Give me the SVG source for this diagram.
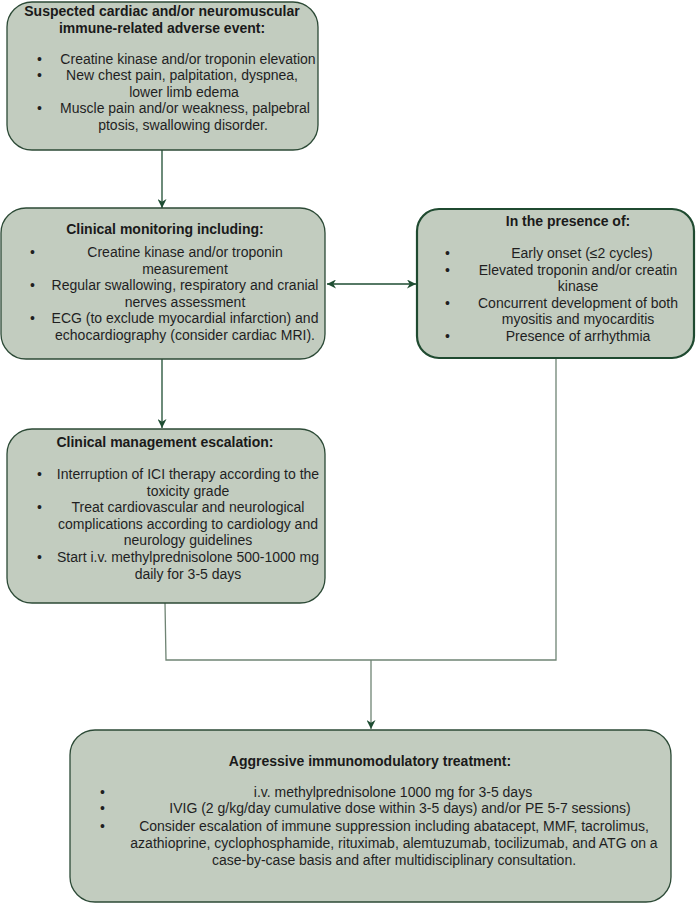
<svg xmlns="http://www.w3.org/2000/svg" width="696" height="904" viewBox="0 0 696 904">
<defs>
<style>
.box{fill:#c2ccbf;stroke:#2c4a36;stroke-width:1.3}
.boxb{fill:#c2ccbf;stroke:#1f4a30;stroke-width:2.2}
.t{font-family:"Liberation Sans",Arial,sans-serif;font-size:14px;font-weight:bold;fill:#1a1a1a;text-anchor:middle}
.b{font-family:"Liberation Sans",Arial,sans-serif;font-size:14px;fill:#1f1f1f;text-anchor:middle}
.bl{font-family:"Liberation Sans",Arial,sans-serif;font-size:14px;fill:#1f1f1f}
.c{fill:none;stroke:#1e4d32;stroke-width:1.3}
.g{fill:none;stroke:#6f8474;stroke-width:1.3}
</style>
<marker id="ah" viewBox="0 0 10 10" refX="10" refY="5" markerWidth="9" markerHeight="9" markerUnits="userSpaceOnUse" orient="auto-start-reverse">
<path d="M0,0 L10,5 L0,10 L3,5 z" fill="#1e4d32"/>
</marker>
</defs>
<g id="connectors">
<line class="c" x1="162" y1="150" x2="162" y2="208" marker-end="url(#ah)"/>
<line class="c" x1="327" y1="284" x2="416" y2="284" marker-start="url(#ah)" marker-end="url(#ah)"/>
<line class="c" x1="162" y1="359" x2="162" y2="428" marker-end="url(#ah)"/>
<polyline class="g" points="165,603 166,660 556,660 556,359"/>
<line class="g" x1="371" y1="660" x2="371" y2="729" marker-end="url(#ah)"/>
</g>
<g id="n1">
<rect class="box" x="7" y="2" width="311" height="148" rx="25"/>
<text class="t" x="162" y="16">Suspected cardiac and/or neuromuscular</text>
<text class="t" x="162" y="33">immune-related adverse event:</text>
<text class="bl" x="37" y="64">•</text><text class="b" x="188" y="64">Creatine kinase and/or troponin elevation</text>
<text class="bl" x="37" y="80">•</text><text class="b" x="182" y="80">New chest pain, palpitation, dyspnea,</text>
<text class="b" x="184" y="97">lower limb edema</text>
<text class="bl" x="37" y="113">•</text><text class="b" x="185" y="113">Muscle pain and/or weakness, palpebral</text>
<text class="b" x="183" y="130">ptosis, swallowing disorder.</text>
</g>
<g id="n2">
<rect class="box" x="1" y="208" width="324" height="151" rx="25"/>
<text class="t" x="165" y="234">Clinical monitoring including:</text>
<text class="bl" x="30" y="257">•</text><text class="b" x="185" y="257">Creatine kinase and/or troponin</text>
<text class="b" x="185" y="274">measurement</text>
<text class="bl" x="30" y="290">•</text><text class="b" x="185" y="290">Regular swallowing, respiratory and cranial</text>
<text class="b" x="185" y="307">nerves assessment</text>
<text class="bl" x="30" y="323">•</text><text class="b" x="185" y="323">ECG (to exclude myocardial infarction) and</text>
<text class="b" x="185" y="340">echocardiography (consider cardiac MRI).</text>
</g>
<g id="n3">
<rect class="boxb" x="417" y="209" width="277" height="149" rx="22"/>
<text class="t" x="568" y="226">In the presence of:</text>
<text class="bl" x="445" y="258">•</text><text class="b" x="582" y="258">Early onset (≤2 cycles)</text>
<text class="bl" x="445" y="275">•</text><text class="b" x="578" y="275">Elevated troponin and/or creatin</text>
<text class="b" x="578" y="291">kinase</text>
<text class="bl" x="445" y="308">•</text><text class="b" x="578" y="308">Concurrent development of both</text>
<text class="b" x="578" y="324">myositis and myocarditis</text>
<text class="bl" x="445" y="341">•</text><text class="b" x="578" y="341">Presence of arrhythmia</text>
</g>
<g id="n4">
<rect class="box" x="7" y="429" width="318" height="174" rx="25"/>
<text class="t" x="165" y="447">Clinical management escalation:</text>
<text class="bl" x="37" y="479">•</text><text class="b" x="188" y="479">Interruption of ICI therapy according to the</text>
<text class="b" x="188" y="496">toxicity grade</text>
<text class="bl" x="37" y="512">•</text><text class="b" x="188" y="512">Treat cardiovascular and neurological</text>
<text class="b" x="188" y="529">complications according to cardiology and</text>
<text class="b" x="188" y="545">neurology guidelines</text>
<text class="bl" x="37" y="562">•</text><text class="b" x="188" y="562">Start i.v. methylprednisolone 500-1000 mg</text>
<text class="b" x="188" y="579">daily for 3-5 days</text>
</g>
<g id="n5">
<rect class="box" x="70" y="730" width="601" height="172" rx="25"/>
<text class="t" x="370" y="766">Aggressive immunomodulatory treatment:</text>
<text class="bl" x="100" y="797">•</text><text class="b" x="393" y="797">i.v. methylprednisolone 1000 mg for 3-5 days</text>
<text class="bl" x="100" y="813">•</text><text class="b" x="400" y="813">IVIG (2 g/kg/day cumulative dose within 3-5 days) and/or PE 5-7 sessions)</text>
<text class="bl" x="100" y="831">•</text><text class="b" x="394" y="831">Consider escalation of immune suppression including abatacept, MMF, tacrolimus,</text>
<text class="b" x="394" y="848">azathioprine, cyclophosphamide, rituximab, alemtuzumab, tocilizumab, and ATG on a</text>
<text class="b" x="394" y="865">case-by-case basis and after multidisciplinary consultation.</text>
</g>
</svg>
